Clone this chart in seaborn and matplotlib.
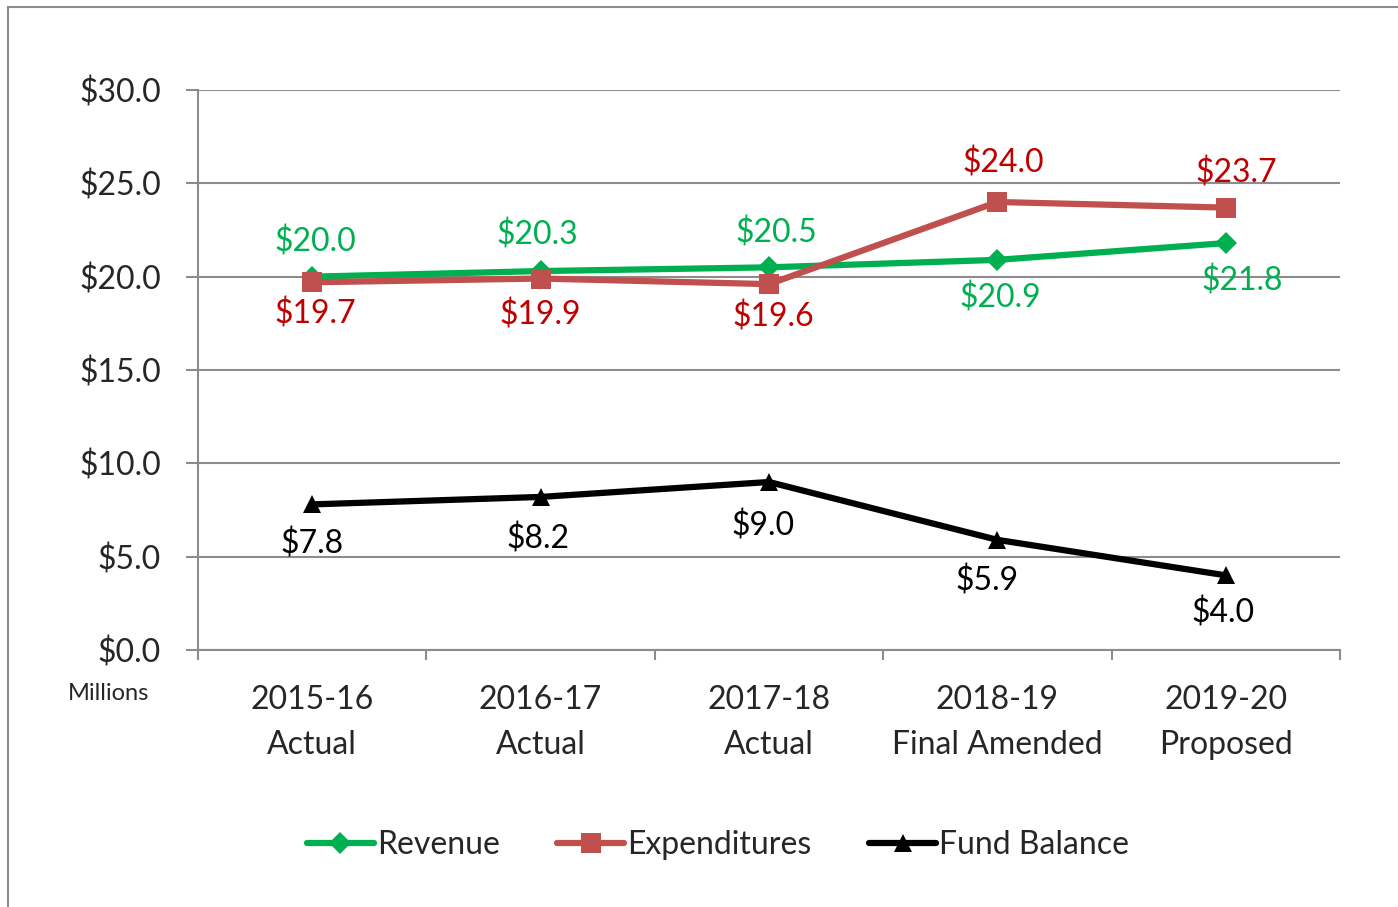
import matplotlib
matplotlib.use("Agg")
import matplotlib.pyplot as plt
import seaborn as sns
import pandas as pd
import numpy as np
from matplotlib.patches import Rectangle

categories = ["2015-16\nActual", "2016-17\nActual", "2017-18\nActual",
              "2018-19\nFinal Amended", "2019-20\nProposed"]
revenue = [20.0, 20.3, 20.5, 20.9, 21.8]
expenditures = [19.7, 19.9, 19.6, 24.0, 23.7]
fund_balance = [7.8, 8.2, 9.0, 5.9, 4.0]
series_names = ["Revenue", "Expenditures", "Fund Balance"]
y_ticks = [0, 5, 10, 15, 20, 25, 30]

sns.set_theme(style="white")
plt.rcParams['font.family'] = ['Lato', 'DejaVu Sans']

rows = []
for name, vals in zip(series_names, [revenue, expenditures, fund_balance]):
    for i, v in enumerate(vals):
        rows.append({"pos": i + 0.5, "value": v, "series": name})
df = pd.DataFrame(rows)

DPI = 100
fig = plt.figure(figsize=(13.98, 9.07), dpi=DPI)
ax = fig.add_axes([198/1398, 1-650/907, (1340-198)/1398, (650-90)/907])

line_colors = {"Revenue": "#00B050", "Expenditures": "#C0504D", "Fund Balance": "#000000"}
text_colors = {"Revenue": "#00B050", "Expenditures": "#C00000", "Fund Balance": "#000000"}
markers = {"Revenue": "D", "Expenditures": "s", "Fund Balance": "^"}
msize = {"Revenue": 11, "Expenditures": 15, "Fund Balance": 13}

for name in series_names:
    sub = df[df.series == name]
    sns.lineplot(data=sub, x="pos", y="value", ax=ax, color=line_colors[name],
                 linewidth=4.5, marker=markers[name], markersize=msize[name],
                 markeredgewidth=0, label=name, zorder=3)

# data labels (offset in pixels, + is up)
label_off = {
    "Revenue": [35, 36, 34, -38, -38],
    "Expenditures": [-32, -36, -33, 39, 35],
    "Fund Balance": [-40, -42, -44, -41, -38],
}
label_dx = {
    "Revenue": [3, -3, 7, 3, 16],
    "Expenditures": [3, 0, 4, 6, 10],
    "Fund Balance": [0, -3, -6, -10, -3],
}
px2pt = 72 / DPI
for name, vals in zip(series_names, [revenue, expenditures, fund_balance]):
    for i, v in enumerate(vals):
        ax.annotate(f"${v:.1f}", (i + 0.5, v),
                    xytext=(label_dx[name][i] * px2pt, label_off[name][i] * px2pt),
                    textcoords="offset points", ha="center", va="center",
                    fontsize=23, color=text_colors[name])

ax.set_xlim(0, 5)
ax.set_ylim(0, 30)
ax.set_yticks(y_ticks)
ax.set_yticklabels([f"${t:.1f}" for t in y_ticks], fontsize=23)
ax.set_xticks([i + 0.5 for i in range(5)])
ax.set_xticklabels(categories, fontsize=23, linespacing=1.65)
ax.set_xticks(range(6), minor=True)
ax.grid(axis="y", color="#8C8C8C", linewidth=1.5)
ax.tick_params(axis="x", which="major", length=0, pad=25)
ax.tick_params(axis="x", which="minor", length=7.5, color="#8C8C8C", width=1.5,
               direction="out", bottom=True)
ax.tick_params(axis="y", length=8.6, color="#8C8C8C", width=1.5, pad=18,
               direction="out", left=True)
for s in ["top", "right"]:
    ax.spines[s].set_visible(False)
ax.spines["left"].set_color("#8C8C8C")
ax.spines["left"].set_linewidth(1.5)
ax.spines["bottom"].set_color("#8C8C8C")
ax.spines["bottom"].set_linewidth(1.5)
ax.set_xlabel("")
ax.set_ylabel("")

fig.text(109/1398, 1-694/907, "Millions", ha="center", va="center", fontsize=17)

leg = ax.legend(loc="center", bbox_to_anchor=(718/1398, 1-845/907),
                bbox_transform=fig.transFigure, ncol=3, frameon=False,
                fontsize=23, handlelength=2.1, handletextpad=0.1, columnspacing=1.8)

fig.patches.append(Rectangle((8/1398, -0.2), 1.2, 1.2 - 7/907, transform=fig.transFigure,
                             fill=False, edgecolor="#8C8C8C", linewidth=1.5))

fig.savefig("out.png", dpi=DPI, facecolor="white")
